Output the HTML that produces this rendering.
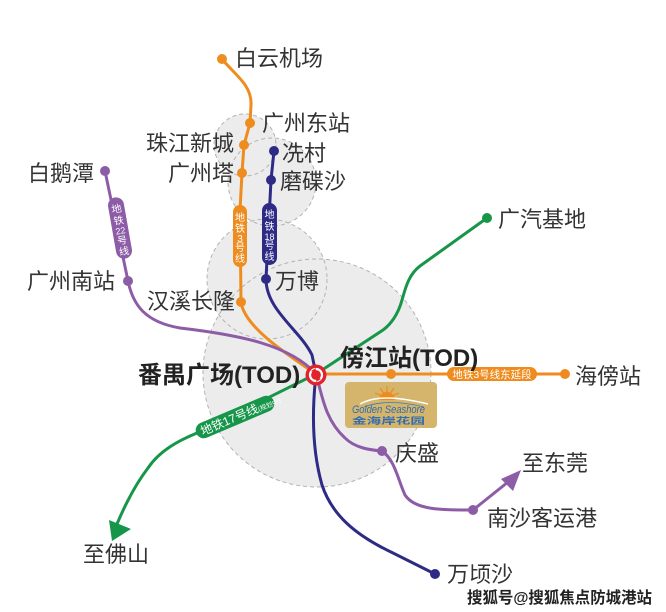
<!DOCTYPE html>
<html><head><meta charset="utf-8"><style>
html,body{margin:0;padding:0;background:#fff;}
svg{display:block;}
text{font-family:"Liberation Sans","Noto Sans CJK SC",sans-serif;}
</style></head><body>
<svg width="666" height="612" viewBox="0 0 666 612" xmlns="http://www.w3.org/2000/svg">
<rect width="666" height="612" fill="#fff"/>
<!-- zone circles -->
<g fill="#ececec" stroke="none">
<circle cx="317" cy="373" r="114"/>
<circle cx="267" cy="279" r="60"/>
<circle cx="272" cy="182" r="44"/>
<circle cx="245" cy="145" r="31"/>
</g>
<g fill="none" stroke="#b3b3b3" stroke-width="1" stroke-dasharray="4 3">
<circle cx="317" cy="373" r="114"/>
<circle cx="267" cy="279" r="60"/>
<circle cx="272" cy="182" r="44"/>
<circle cx="245" cy="145" r="31"/>
</g>

<!-- lines -->
<g fill="none" stroke-width="3" stroke-linecap="round" stroke-linejoin="round">
<path d="M487,218 L420,266 C408,275 405,290 402,300 C398,315 390,325 383,330 L316,374 L197,433 C180,440 160,450 148,468 C135,485 125,505 117,524" stroke="#17964a"/>
<path d="M316,374 L565,374" stroke="#ef8c1f"/>
<path d="M222,59 C235,75 252,85 251,105 L250,123 L244,145 L242,173 L240,210 L241,302 C244,325 280,350 316,374" stroke="#ef8c1f"/>
<path d="M105,171 L128,281 C133,305 145,322 180,328 C240,335 290,345 316,374 C322,395 325,420 345,438 C355,448 370,450 382,451 C395,460 398,480 405,495 C415,510 440,510 473,510 L508,482" stroke="#8c5ca6"/>
<path d="M274,151 L271,180 L266,279 C266,310 300,330 312,355 L316,374 C312,410 312,450 322,485 C332,515 355,535 393,553 L435,574" stroke="#2d2b86"/>
</g>
<polygon points="521,470 501,479 513,491" fill="#8c5ca6"/>
<polygon points="112,541 109,520 131,529" fill="#17964a"/>

<!-- dots -->
<g fill="#ef8c1f">
<circle cx="222" cy="59" r="5"/>
<circle cx="250" cy="123" r="5"/>
<circle cx="244" cy="145" r="5"/>
<circle cx="242" cy="173" r="5"/>
<circle cx="241" cy="302" r="5"/>
<circle cx="391" cy="374" r="5"/>
<circle cx="565" cy="374" r="5"/>
</g>
<g fill="#2d2b86">
<circle cx="274" cy="151" r="5"/>
<circle cx="271" cy="180" r="5"/>
<circle cx="266" cy="279" r="5"/>
<circle cx="435" cy="574" r="5"/>
</g>
<g fill="#8c5ca6">
<circle cx="105" cy="171" r="5"/>
<circle cx="128" cy="281" r="5"/>
<circle cx="382" cy="451" r="5"/>
<circle cx="473" cy="510" r="5"/>
</g>
<circle cx="487" cy="218" r="5" fill="#17964a"/>

<!-- pills -->
<rect x="233" y="205" width="14" height="62" rx="7" fill="#ef8c1f"/>
<g fill="#fff" font-size="10" text-anchor="middle">
<text x="240" y="221">地</text>
<text x="240" y="232">铁</text>
<text x="240" y="242">3</text>
<text x="240" y="251">号</text>
<text x="240" y="262">线</text>
</g>
<rect x="262" y="203" width="15" height="62" rx="7.5" fill="#2d2b86"/>
<g fill="#fff" font-size="10" text-anchor="middle">
<text x="269.5" y="218">地</text>
<text x="269.5" y="230">铁</text>
<text x="269.5" y="240" font-size="9">18</text>
<text x="269.5" y="249">号</text>
<text x="269.5" y="260">线</text>
</g>
<g transform="translate(120,228) rotate(-10)">
<rect x="-8" y="-31" width="16" height="62" rx="8" fill="#8c5ca6"/>
<g fill="#fff" font-size="10" text-anchor="middle">
<text x="0" y="-16">地</text>
<text x="0" y="-4">铁</text>
<text x="0" y="6" font-size="9">22</text>
<text x="0" y="16">号</text>
<text x="0" y="27">线</text>
</g>
</g>
<g transform="translate(235,417) rotate(-23)">
<rect x="-42" y="-8" width="84" height="16" rx="8" fill="#17964a"/>
<text x="-37" y="4.5" fill="#fff" font-size="12">地铁17号线<tspan font-size="6.5">(规划中)</tspan></text>
</g>
<rect x="447" y="367" width="90" height="14" rx="7" fill="#ef8c1f"/>
<text x="492" y="378" fill="#fff" font-size="10.5" text-anchor="middle">地铁3号线东延段</text>

<!-- logo -->
<rect x="345" y="382" width="92" height="46" rx="4" fill="#d5b46b"/>
<g stroke="#f08a1c" stroke-width="1.2">
<line x1="387" y1="398" x2="387" y2="386"/>
<line x1="387" y1="398" x2="380" y2="388"/>
<line x1="387" y1="398" x2="394" y2="388"/>
<line x1="387" y1="398" x2="375" y2="393"/>
<line x1="387" y1="398" x2="399" y2="393"/>
</g>
<path d="M379,400 A8,8 0 0 1 395,400 Z" fill="#f08a1c"/>
<path d="M360,404 C375,396 395,396 428,404" stroke="#fff" stroke-width="1.5" fill="none"/>
<path d="M364,407 C380,401 400,401 424,407" stroke="#3a7bb8" stroke-width="0.8" fill="none"/>
<text x="352" y="413" font-family="Liberation Serif,serif" font-style="italic" font-size="11" fill="#2f6db0" textLength="73" lengthAdjust="spacingAndGlyphs">Golden Seashore</text>
<text x="352" y="424" font-size="9" font-weight="bold" fill="#2f6db0" textLength="73" lengthAdjust="spacingAndGlyphs">金海岸花园</text>

<!-- center icon -->
<circle cx="316" cy="375" r="10.5" fill="#e1232b"/>
<circle cx="316" cy="375" r="6" fill="none" stroke="#fff" stroke-width="2.2"/>
<circle cx="316" cy="375" r="3" fill="#e1232b"/>
<polygon points="311,371 316,368 315,373" fill="#e1232b"/>
<polygon points="321,379 316,382 317,377" fill="#e1232b"/>

<!-- labels -->
<g fill="#333" font-size="22">
<text x="235" y="66">白云机场</text>
<text x="262" y="131">广州东站</text>
<text x="234" y="151" text-anchor="end">珠江新城</text>
<text x="234" y="181" text-anchor="end">广州塔</text>
<text x="282" y="161">冼村</text>
<text x="280" y="189">磨碟沙</text>
<text x="28" y="181">白鹅潭</text>
<text x="27" y="289">广州南站</text>
<text x="235" y="309" text-anchor="end">汉溪长隆</text>
<text x="275" y="289">万博</text>
<text x="575" y="384">海傍站</text>
<text x="498" y="227">广汽基地</text>
<text x="395" y="461">庆盛</text>
<text x="522" y="471">至东莞</text>
<text x="487" y="526">南沙客运港</text>
<text x="447" y="582">万顷沙</text>
<text x="83" y="562">至佛山</text>
</g>
<g fill="#222" font-size="24" font-weight="bold">
<text x="138" y="383">番禺广场(TOD)</text>
<text x="340" y="366">傍江站(TOD)</text>
</g>
<text x="467" y="603" font-size="16" font-weight="bold" fill="#222" stroke="#fff" stroke-width="2.5" paint-order="stroke" textLength="185" lengthAdjust="spacingAndGlyphs">搜狐号@搜狐焦点防城港站</text>
</svg>
</body></html>
